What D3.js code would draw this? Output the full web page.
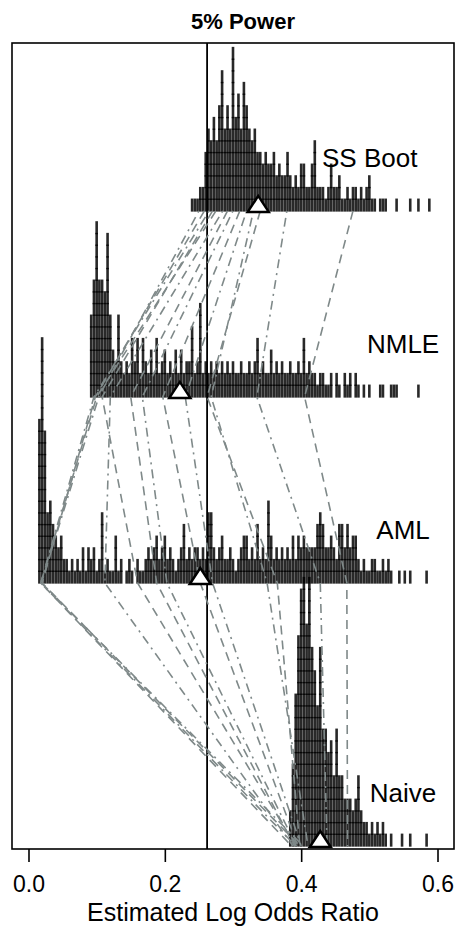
<!DOCTYPE html>
<html>
<head>
<meta charset="utf-8">
<script src="https://cdn.jsdelivr.net/npm/d3@7"></script>
<style>
  body { margin: 0; background: #fff; }
  text { font-family: "Liberation Sans", Arial, Helvetica, sans-serif; }
</style>
</head>
<body>
<div id="chart"></div>
<script>
// estimates binned at 0.004 on the log odds scale, counts read off the stacks
const binWidth = 0.004
const methods = ["SS Boot", "NMLE", "AML", "Naive"]

const ssBootStart = 0.240
const ssBootCounts = [1,1,1,2,2,5,7,6,8,6, 9,12,7,9,7,14,8,10,7,11,
  9,7,6,7,5,5,4,5,4,4, 5,3,4,3,3,5,3,2,3,2, 4,4,2,2,4,6,2,2,2,1,
  2,4,2,2,3,1,1,2,1,2, 2,1,2,1,2,3,1,1,0,1, 1,1,0,0,0,1,0,0,0,0, 1,0,0,1,0,0,0,1]

const nmleStart = 0.092
const nmleCounts = [7,10,15,10,10,9,14,7,4,3, 7,3,2,3,2,5,3,5,2,5,
  3,2,4,2,5,2,3,4,2,3, 2,4,2,4,2,3,3,6,2,3, 8,2,3,2,3,2,3,2,3,2,
  3,2,3,2,2,3,2,2,3,2, 3,5,2,3,2,2,4,2,3,2, 3,2,2,3,2,2,3,2,5,2,
  3,2,2,1,2,2,1,1,2,0, 2,1,0,2,1,2,0,2,1,0, 1,0,1,0,0,0,1,1,0,0,
  1,1,1,0,0,0,0,0,0,0, 1]

const amlStart = 0.016
const amlCounts = [14,21,13,6,7,5,4,3,4,2, 2,1,2,1,2,1,3,1,3,2,
  3,1,2,6,1,2,1,1,4,1, 2,0,1,2,1,0,2,1,1,2, 3,2,3,4,2,3,4,2,3,2,
  1,2,3,5,2,3,2,3,3,2, 3,2,6,6,3,2,3,4,2,2, 3,2,1,2,3,4,4,2,3,2,
  5,2,3,2,7,4,2,3,2,3, 2,3,2,4,2,4,3,4,3,3, 3,3,5,6,5,3,3,4,3,2,
  5,5,3,5,3,4,4,2,1,2, 1,1,2,2,1,1,2,1,2,1, 0,0,1,0,1,0,1,0,0,0, 0,0,1]

const naiveStart = 0.384
const naiveCounts = [3,7,13,18,22,23,19,23,17,15, 12,17,10,10,8,9,6,10,6,6,
  4,4,4,3,4,6,3,2,2,1, 2,1,2,1,2,1,0,1,0,0, 0,1,0,0,1,0,0,0,0,0, 1]

const methodMeans = [0.337, 0.222, 0.252, 0.428]
const trueValue = 0.262

// a handful of simulated data sets followed across the four methods
const simSSBoot = [0.476, 0.379, 0.340, 0.330, 0.310, 0.300, 0.292, 0.285, 0.275, 0.265, 0.258, 0.250, 0.270, 0.320]
const simNMLE   = [0.405, 0.335, 0.262, 0.268, 0.197, 0.167, 0.150, 0.120, 0.100, 0.096, 0.098, 0.103, 0.108, 0.230]
const simAML    = [0.467, 0.428, 0.365, 0.350, 0.252, 0.203, 0.188, 0.112, 0.018, 0.018, 0.020, 0.019, 0.160, 0.270]
const simNaive  = [0.468, 0.438, 0.398, 0.410, 0.395, 0.393, 0.390, 0.388, 0.386, 0.392, 0.398, 0.403, 0.392, 0.400]

const xTicks = [0, 0.2, 0.4, 0.6]

const W = 457, H = 933
const plot = { left: 12, right: 454, top: 43, bottom: 849 }

const svg = d3.select("#chart").append("svg")
    .attr("width", W).attr("height", H)
    .attr("viewBox", "0 0 " + W + " " + H)

const x = d3.scaleLinear().domain([-0.0242, 0.6242]).range([plot.left, plot.right])
// y in stack units: one stacked glyph = 1
const y = d3.scaleLinear().domain([0, 69.07]).range([plot.bottom, plot.top])
const level = { "SS Boot": 54.68, "NMLE": 38.74, "AML": 22.8, "Naive": 0.26 }

const starts = [ssBootStart, nmleStart, amlStart, naiveStart]
const counts = [ssBootCounts, nmleCounts, amlCounts, naiveCounts]

// stacked strips
methods.forEach(function (m, mi) {
    const units = []
    counts[mi].forEach(function (c, i) {
        const v = starts[mi] + i * binWidth
        for (let k = 0; k < c; k++) units.push({ v: v, k: k })
    })
    svg.append("g").selectAll("rect").data(units).join("rect")
        .attr("x", d => x(d.v) - 1.3)
        .attr("width", 2.6)
        .attr("y", d => y(level[m] + d.k + 1) - 0.7)
        .attr("height", y(0) - y(1) + 1.4)
        .attr("fill", "#000")
        .attr("fill-opacity", 0.84)
})

// true value
svg.append("line")
    .attr("x1", x(trueValue)).attr("x2", x(trueValue))
    .attr("y1", plot.top).attr("y2", plot.bottom)
    .attr("stroke", "#000").attr("stroke-width", 1.8)

// connecting lines
const sims = simSSBoot.map((d, i) => [simSSBoot[i], simNMLE[i], simAML[i], simNaive[i]])
const line = d3.line().x(d => x(d[0])).y(d => y(d[1]))
svg.append("g").selectAll("path").data(sims).join("path")
    .attr("d", s => line(s.map((v, j) => [v, level[methods[j]]])))
    .attr("fill", "none")
    .attr("stroke", "#7f8989")
    .attr("stroke-width", 1.6)
    .attr("stroke-dasharray", (s, i) => i % 2 == 0 ? "9,6" : "2,5,9,5")

// means
svg.append("g").selectAll("path").data(methods).join("path")
    .attr("d", (m, i) => {
        const cx = x(methodMeans[i]), by = y(level[m]) + 1
        return "M" + (cx - 10.5) + "," + by + "L" + (cx + 10.5) + "," + by + "L" + cx + "," + (by - 16) + "Z"
    })
    .attr("fill", "#fff").attr("stroke", "#000").attr("stroke-width", 2.5)
    .attr("stroke-linejoin", "miter")

// method labels
const labelX = [0.5005, 0.5495, 0.5495, 0.5495]
svg.append("g").selectAll("text").data(methods).join("text")
    .attr("x", (m, i) => x(labelX[i]))
    .attr("y", m => y(level[m]) - 44)
    .attr("text-anchor", "middle")
    .attr("font-size", 26)
    .text(m => m)

// frame
svg.append("rect")
    .attr("x", plot.left).attr("y", plot.top)
    .attr("width", plot.right - plot.left).attr("height", plot.bottom - plot.top)
    .attr("fill", "none").attr("stroke", "#000").attr("stroke-width", 1.6)

// x axis
const axis = svg.append("g").attr("transform", "translate(0," + plot.bottom + ")")
    .call(d3.axisBottom(x).tickValues(xTicks).tickFormat(d3.format(".1f")).tickSize(13))
axis.attr("font-size", 23).attr("font-family", '"Liberation Sans", Arial, sans-serif')
axis.select(".domain").remove()
axis.selectAll("line").attr("stroke-width", 1.6)
axis.selectAll("text").attr("y", 43).attr("dy", 0).attr("fill", "#000")

svg.append("text")
    .attr("x", (plot.left + plot.right) / 2).attr("y", 921)
    .attr("text-anchor", "middle").attr("font-size", 25)
    .text("Estimated Log Odds Ratio")

svg.append("text")
    .attr("x", 243).attr("y", 29)
    .attr("text-anchor", "middle").attr("font-size", 22).attr("font-weight", "bold")
    .text("5% Power")
</script>
</body>
</html>
